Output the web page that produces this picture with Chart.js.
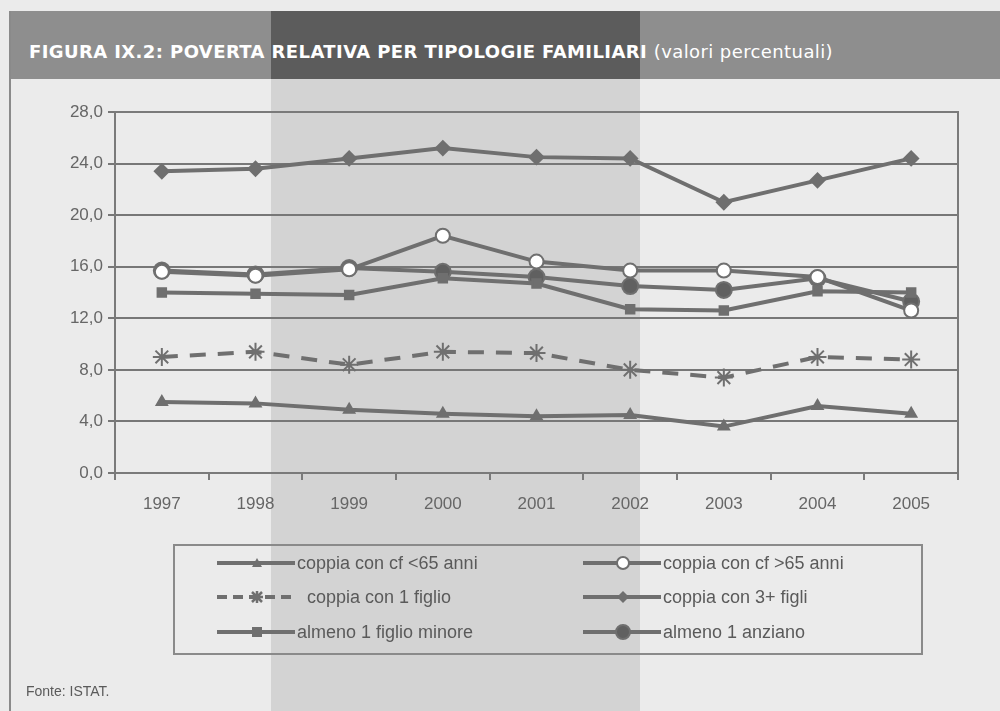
<!DOCTYPE html>
<html>
<head>
<meta charset="utf-8">
<script src="https://cdn.jsdelivr.net/npm/chart.js@4"></script>
<style>
  body { margin: 0; width: 1000px; height: 711px; overflow: hidden; background: #ebebeb; font-family: "Liberation Sans", Arial, sans-serif; }
  #page { position: absolute; left: 0; top: 0; width: 1000px; height: 711px; }
  #stripe { position: absolute; left: 271px; top: 79px; width: 369px; height: 632px; background: #d3d3d3; }
  #border { position: absolute; left: 9px; top: 11px; width: 2px; height: 700px; background: #8a8a8a; }
  #band { position: absolute; left: 9px; top: 11px; width: 991px; height: 68px; background: #8e8e8e; }
  #bandDark { position: absolute; left: 271px; top: 11px; width: 369px; height: 68px; background: #5c5c5c; }
  #title { position: absolute; left: 29px; top: 41px; color: #fff; font-family: "DejaVu Sans", sans-serif; font-weight: bold; font-size: 18px; white-space: nowrap; letter-spacing: 0.4px; }
  #title span { font-weight: normal; }
  canvas { position: absolute; left: 0; top: 0; }
  #legend { position: absolute; left: 173px; top: 544px; width: 746px; height: 107px; border: 2px solid #8a8a8a; }
  .item { position: absolute; height: 22px; display: flex; align-items: center; color: #5a5a5a; font-size: 18px; white-space: nowrap; }
  .item svg { margin-right: 2px; }
  #source { position: absolute; left: 26px; top: 683px; font-size: 14px; color: #5a5a5a; }
</style>
</head>
<body>
<div id="page">
  <div id="band"></div>
  <div id="stripe"></div>
  <div id="bandDark"></div>
  <div id="border"></div>
  <div id="title">FIGURA IX.2: POVERTA RELATIVA PER TIPOLOGIE FAMILIARI <span>(valori percentuali)</span></div>
  <canvas id="chart" width="1000" height="711"></canvas>
  <div id="legend"></div>
  <div id="source">Fonte: ISTAT.</div>
</div>
<script>
// dati
const years = ["1997", "1998", "1999", "2000", "2001", "2002", "2003", "2004", "2005"];
const yTicks = [0, 4, 8, 12, 16, 20, 24, 28];

const cfUnder65 = [5.5, 5.4, 4.9, 4.6, 4.4, 4.5, 3.6, 5.2, 4.6];
const cfOver65 = [15.6, 15.3, 15.8, 18.4, 16.4, 15.7, 15.7, 15.2, 12.6];
const unFiglio = [9.0, 9.4, 8.4, 9.4, 9.3, 8.0, 7.4, 9.0, 8.8];
const treFigli = [23.4, 23.6, 24.4, 25.2, 24.5, 24.4, 21.0, 22.7, 24.4];
const figlioMinore = [14.0, 13.9, 13.8, 15.1, 14.7, 12.7, 12.6, 14.1, 14.0];
const anziano = [15.7, 15.4, 15.9, 15.6, 15.2, 14.5, 14.2, 15.1, 13.3];

const grey = "#6f6f6f";

const datasets = [
  { label: "coppia con cf <65 anni", data: cfUnder65, pointStyle: "triangle", pointRadius: 6, pointBackgroundColor: grey },
  { label: "coppia con cf >65 anni", data: cfOver65, pointStyle: "circle", pointRadius: 7, pointBackgroundColor: "#ffffff" },
  { label: "coppia con 1 figlio", data: unFiglio, pointStyle: "star", pointRadius: 9, pointBackgroundColor: grey, borderDash: [16, 12] },
  { label: "coppia con 3+ figli", data: treFigli, pointStyle: "rectRot", pointRadius: 7, pointBackgroundColor: grey },
  { label: "almeno 1 figlio minore", data: figlioMinore, pointStyle: "rect", pointRadius: 6, pointBackgroundColor: grey },
  { label: "almeno 1 anziano", data: anziano, pointStyle: "circle", pointRadius: 8, pointBackgroundColor: "#606060" },
].map(d => Object.assign({
  borderColor: grey,
  borderWidth: 4,
  pointBorderColor: grey,
  pointBorderWidth: 2,
  tension: 0,
}, d));

// bordo dell'area del grafico
const frame = {
  id: "frame",
  beforeDatasetsDraw(chart) {
    const a = chart.chartArea, c = chart.ctx;
    c.save();
    c.strokeStyle = "#7a7a7a";
    c.lineWidth = 2;
    c.strokeRect(a.left, a.top, a.right - a.left, a.bottom - a.top);
    c.restore();
  }
};

new Chart(document.getElementById("chart"), {
  type: "line",
  data: { labels: years, datasets },
  plugins: [frame],
  options: {
    responsive: false,
    animation: false,
    layout: { padding: { left: 0, right: 42, top: 112, bottom: 188 } },
    plugins: { legend: { display: false }, tooltip: { enabled: false } },
    scales: {
      x: {
        offset: true,
        grid: { drawOnChartArea: false, drawTicks: true, tickLength: 7, color: "#7a7a7a", lineWidth: 2, offset: true },
        border: { color: "#6a6a6a", width: 2 },
        ticks: { color: "#666666", font: { family: "Liberation Sans", size: 17 }, padding: 14 },
        afterFit(s) { s.height = 50; }
      },
      y: {
        min: 0, max: 28,
        afterBuildTicks(s) { s.ticks = yTicks.map(v => ({ value: v })); },
        grid: { color: "#777777", lineWidth: 2, tickLength: 7 },
        border: { color: "#6a6a6a", width: 2 },
        ticks: { color: "#666666", font: { family: "Liberation Sans", size: 17 }, padding: 5,
          callback: v => v.toFixed(1).replace(".", ",") },
        afterFit(s) { s.width = 115; }
      }
    }
  }
});

// legenda
function sample(d) {
  const dash = d.borderDash ? 'stroke-dasharray="10 6"' : "";
  const cx = 40, cy = 11, r = d.pointRadius - 1;
  let m = "";
  if (d.pointStyle === "circle") m = `<circle cx="${cx}" cy="${cy}" r="${r}" fill="${d.pointBackgroundColor}" stroke="${grey}" stroke-width="2"/>`;
  if (d.pointStyle === "rect") m = `<rect x="${cx - r}" y="${cy - r}" width="${2 * r}" height="${2 * r}" fill="${grey}"/>`;
  if (d.pointStyle === "rectRot") m = `<polygon points="${cx},${cy - r} ${cx + r},${cy} ${cx},${cy + r} ${cx - r},${cy}" fill="${grey}"/>`;
  if (d.pointStyle === "triangle") m = `<polygon points="${cx},${cy - r} ${cx + r},${cy + r - 1} ${cx - r},${cy + r - 1}" fill="${grey}"/>`;
  if (d.pointStyle === "star") m = `<path d="M${cx - 6} ${cy}h12M${cx} ${cy - 6}v12M${cx - 5} ${cy - 5}l10 10M${cx + 5} ${cy - 5}l-10 10" stroke="${grey}" stroke-width="2.5"/>`;
  return `<svg width="78" height="22"><line x1="0" y1="${cy}" x2="78" y2="${cy}" stroke="${grey}" stroke-width="4" ${dash}/>${m}</svg>`;
}
const legend = document.getElementById("legend");
const pos = [[42, 6], [408, 6], [42, 40], [408, 40], [42, 75], [408, 75]];
datasets.forEach((d, i) => {
  const el = document.createElement("div");
  el.className = "item";
  el.style.left = pos[i][0] + "px";
  el.style.top = pos[i][1] + "px";
  el.innerHTML = sample(d) + (d.borderDash ? "&nbsp;&nbsp;" : "") + d.label;
  legend.appendChild(el);
});
</script>
</body>
</html>
